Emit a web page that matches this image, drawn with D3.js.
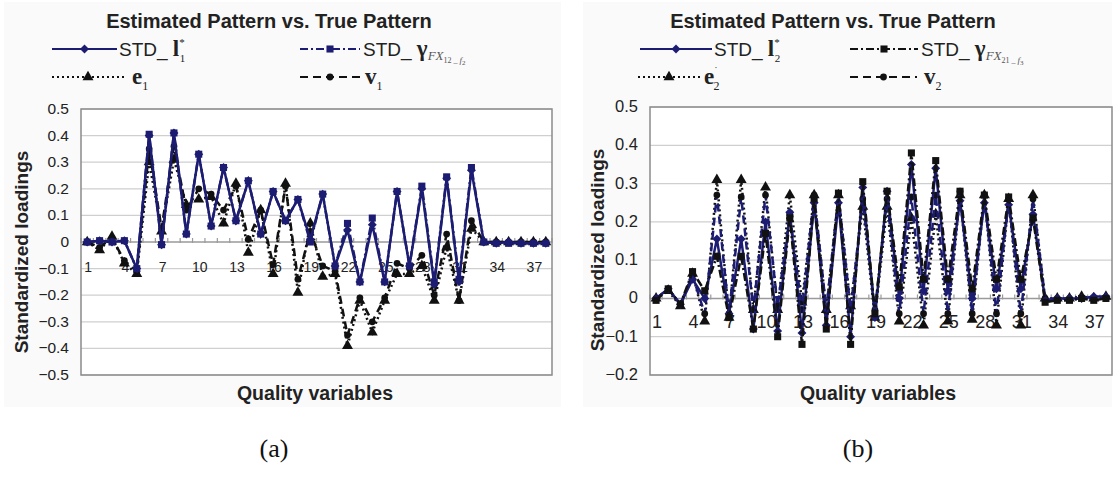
<!DOCTYPE html>
<meta charset="utf-8">
<style>
body { margin: 0; background: #fff; }
* { font-family: "Liberation Sans", Arial, sans-serif; }
.serif { font-family: "Liberation Serif", "Times New Roman", serif; }
</style>
<body>
<script src="https://d3js.org/d3.v7.min.js"></script>
<script>

// categories and tick labels
var cats = d3.range(1, 39);
var tickCats = [1, 4, 7, 10, 13, 16, 19, 22, 25, 28, 31, 34, 37];
var yTicksA = [-0.5, -0.4, -0.3, -0.2, -0.1, 0, 0.1, 0.2, 0.3, 0.4, 0.5];
var yTicksB = [-0.2, -0.1, 0, 0.1, 0.2, 0.3, 0.4, 0.5];

// panel (a) series
var l1 = [0, 0.005, 0, 0.005, -0.1, 0.40, -0.01, 0.41, 0.03, 0.33, 0.06, 0.28, 0.08, 0.23, 0.03, 0.19, 0.08, 0.16, 0.01,
          0.18, -0.09, 0.045, -0.15, 0.065, -0.15, 0.19, -0.09, 0.20, -0.16, 0.24, -0.15, 0.27, 0, -0.005, 0, -0.005, -0.005, -0.005];
var g1 = [0, 0.005, 0, 0.005, -0.1, 0.405, -0.01, 0.41, 0.03, 0.33, 0.06, 0.28, 0.08, 0.23, 0.03, 0.19, 0.08, 0.16, 0.0,
          0.18, -0.09, 0.07, -0.15, 0.09, -0.15, 0.19, -0.09, 0.21, -0.15, 0.245, -0.14, 0.28, 0, -0.005, -0.005, -0.005, -0.005, -0.005];
var e1 = [0, -0.03, 0.02, -0.08, -0.12, 0.30, 0.04, 0.31, 0.14, 0.16, 0.17, 0.07, 0.22, -0.04, 0.12, -0.12, 0.22, -0.19, 0.07,
          -0.13, -0.12, -0.39, -0.22, -0.34, -0.22, -0.12, -0.12, -0.09, -0.22, -0.02, -0.22, 0.05, 0, 0, 0, 0, 0, 0];
var v1 = [0, -0.02, 0.015, -0.07, -0.11, 0.35, 0.05, 0.36, 0.12, 0.20, 0.18, 0.12, 0.21, 0.01, 0.12, -0.085, 0.21, -0.14, 0.04,
          -0.09, -0.11, -0.35, -0.21, -0.30, -0.21, -0.08, -0.10, -0.05, -0.20, 0.03, -0.22, 0.08, 0, 0, 0, 0, 0, 0];

// panel (b) series
var l2 = [0, 0.025, -0.015, 0.05, 0.0, 0.155, -0.04, 0.155, -0.08, 0.2, -0.085, 0.225, -0.09, 0.25, -0.07, 0.25, -0.1, 0.29, -0.05,
          0.28, 0.0, 0.35, 0.02, 0.34, 0.02, 0.255, 0.0, 0.25, 0.025, 0.245, 0.025, 0.22, -0.005, 0, 0, 0, 0.005, 0.005];
var g2 = [-0.005, 0.025, -0.015, 0.07, 0.02, 0.11, -0.05, 0.11, -0.08, 0.17, -0.1, 0.21, -0.12, 0.26, -0.08, 0.275, -0.12, 0.305, -0.04,
          0.28, 0.03, 0.38, 0.05, 0.36, 0.05, 0.28, 0.025, 0.27, 0.05, 0.265, 0.05, 0.21, -0.01, -0.005, -0.005, 0, -0.005, 0];
var e2 = [0, 0.02, -0.02, 0.065, -0.06, 0.31, -0.05, 0.31, -0.03, 0.29, -0.03, 0.27, -0.01, 0.27, -0.03, 0.27, -0.02, 0.24, -0.05,
          0.24, -0.06, 0.21, -0.07, 0.22, -0.06, 0.27, -0.055, 0.27, -0.07, 0.26, -0.07, 0.27, 0, 0, 0, 0.005, 0, 0.005];
var v2 = [0, 0.025, -0.015, 0.06, -0.04, 0.27, -0.04, 0.265, -0.03, 0.27, -0.02, 0.22, -0.03, 0.27, -0.03, 0.27, -0.03, 0.26, -0.03,
          0.26, -0.04, 0.265, -0.04, 0.27, -0.04, 0.28, -0.04, 0.27, -0.04, 0.26, -0.04, 0.26, 0, 0, 0, 0, 0, 0];

var navy = "#1c1c72";

var svg = d3.select("body").append("svg")
    .attr("width", 1115)
    .attr("height", 477);

function marker(type) {
  if (type == "diamond") return d3.symbol().type(d3.symbolSquare).size(40)();
  if (type == "square") return d3.symbol().type(d3.symbolSquare).size(50)();
  if (type == "triangle") return d3.symbol().type(d3.symbolTriangle).size(52)();
  return d3.symbol().type(d3.symbolCircle).size(36)();
}

function drawPanel(p) {
  var g = svg.append("g");

  // faint chart-area background
  g.append("rect")
      .attr("x", p.bg[0]).attr("y", 2)
      .attr("width", p.bg[1] - p.bg[0]).attr("height", 405)
      .attr("fill", "#fafafa");

  var x = d3.scaleBand().domain(cats).range([p.left, p.right]);
  var y = d3.scaleLinear().domain(p.ydom).range([p.bottom, p.top]);
  var cx = function(i) { return x(cats[i]) + x.bandwidth() / 2; };

  g.append("rect")
      .attr("x", p.left).attr("y", p.top)
      .attr("width", p.right - p.left).attr("height", p.bottom - p.top)
      .attr("fill", "#fff");

  // gridlines + y labels
  p.yticks.forEach(function(t) {
    g.append("line")
        .attr("x1", p.left).attr("x2", p.right)
        .attr("y1", y(t)).attr("y2", y(t))
        .attr("stroke", t == 0 ? "#9a9a9a" : "#cfcfcf")
        .attr("stroke-width", t == 0 ? 1.5 : 1.2);
    g.append("text")
        .attr("x", p.left - 12).attr("y", y(t) + 5)
        .attr("text-anchor", "end")
        .attr("font-size", p.yfs)
        .attr("fill", "#222")
        .text(t == 0 ? "0" : d3.format(".1f")(t));
  });

  // category ticks on the zero line
  cats.concat([39]).forEach(function(c, i) {
    var xx = p.left + i * x.bandwidth();
    g.append("line")
        .attr("x1", xx).attr("x2", xx)
        .attr("y1", y(0) - 4).attr("y2", y(0) + 1)
        .attr("stroke", "#9a9a9a").attr("stroke-width", 1.2);
  });

  tickCats.forEach(function(c) {
    g.append("text")
        .attr("x", cx(c - 1) + 1).attr("y", y(0) + p.xlabDy)
        .attr("text-anchor", "middle")
        .attr("font-size", p.xfs)
        .attr("fill", "#222")
        .text(c);
  });

  g.append("rect")
      .attr("x", p.left).attr("y", p.top)
      .attr("width", p.right - p.left).attr("height", p.bottom - p.top)
      .attr("fill", "none").attr("stroke", "#8a8a8a").attr("stroke-width", 1.5);

  var line = d3.line()
      .x(function(d, i) { return cx(i); })
      .y(function(d) { return y(d); });

  p.series.forEach(function(s) {
    g.append("path")
        .datum(s.values)
        .attr("d", line)
        .attr("fill", "none")
        .attr("stroke", s.stroke)
        .attr("stroke-width", 2.5)
        .attr("stroke-dasharray", s.dash);
    g.selectAll(null)
        .data(s.values)
      .enter().append("path")
        .attr("d", marker(s.marker))
        .attr("transform", function(d, i) {
          return "translate(" + cx(i) + "," + y(d) + ")" + (s.marker == "diamond" ? "rotate(45)" : "");
        })
        .attr("fill", s.fill);
  });

  // titles
  g.append("text")
      .attr("x", p.titleX).attr("y", 28)
      .attr("text-anchor", "middle")
      .attr("font-size", 20)
      .attr("font-weight", "bold")
      .attr("fill", "#222")
      .text("Estimated Pattern vs. True Pattern");

  g.append("text")
      .attr("transform", "translate(" + p.yTitleX + "," + p.yTitleY + ")rotate(-90)")
      .attr("text-anchor", "middle")
      .attr("font-size", 19)
      .attr("font-weight", "bold")
      .attr("fill", "#222")
      .text("Standardized loadings");

  g.append("text")
      .attr("x", p.xTitleX).attr("y", 400)
      .attr("text-anchor", "middle")
      .attr("font-size", 19.5)
      .attr("font-weight", "bold")
      .attr("fill", "#222")
      .text("Quality variables");

  g.append("text")
      .attr("class", "serif")
      .attr("x", p.capX).attr("y", 457)
      .attr("text-anchor", "middle")
      .attr("font-size", 26)
      .attr("fill", "#111")
      .text(p.caption);

  // legend
  p.series.forEach(function(s, k) {
    var lg = p.legend[k];
    g.append("line")
        .attr("x1", lg.x0).attr("x2", lg.x1)
        .attr("y1", lg.y).attr("y2", lg.y)
        .attr("stroke", s.legStroke || s.stroke)
        .attr("stroke-width", 2)
        .attr("stroke-dasharray", s.dash);
    g.append("path")
        .attr("d", marker(s.marker))
        .attr("transform", "translate(" + ((lg.x0 + lg.x1) / 2) + "," + lg.y + ")" + (s.marker == "diamond" ? "rotate(45)" : ""))
        .attr("fill", s.fill);
    var t = g.append("text")
        .attr("x", lg.x1 + lg.gap).attr("y", lg.y + 7)
        .attr("font-size", 19)
        .attr("fill", "#222");
    s.label(t);
  });
}

function labelL(n) {
  return function(t) {
    t.append("tspan").text("STD_ ");
    t.append("tspan").attr("class", "serif").attr("font-weight", "bold").attr("font-size", 23).text("l");
    t.append("tspan").attr("class", "serif").attr("font-size", 11).attr("dy", -10).text("*");
    t.append("tspan").attr("class", "serif").attr("font-size", 11).attr("dx", -5).attr("dy", 16).text(n);
  };
}
function labelG(a, b) {
  return function(t) {
    t.append("tspan").text("STD_ ");
    t.append("tspan").attr("class", "serif").attr("font-weight", "bold").attr("font-size", 23).text("\u03b3");
    t.append("tspan").attr("class", "serif").attr("font-style", "italic").attr("font-size", 13).attr("fill", "#555").attr("dy", 4).text("FX");
    t.append("tspan").attr("class", "serif").attr("font-size", 8).attr("fill", "#555").attr("dy", 3).text(a + " _ ");
    t.append("tspan").attr("class", "serif").attr("font-style", "italic").attr("font-size", 9).attr("fill", "#555").text("f");
    t.append("tspan").attr("class", "serif").attr("font-size", 7).attr("fill", "#555").attr("dy", 2).text(b);
  };
}
function labelV(ch, n, prime) {
  return function(t) {
    t.append("tspan").attr("class", "serif").attr("font-weight", "bold").attr("font-size", 23).text(ch);
    if (prime) {
      t.append("tspan").attr("class", "serif").attr("font-size", 10).attr("dy", -10).text("\u02d9");
      t.append("tspan").attr("class", "serif").attr("font-size", 12).attr("dx", -4).attr("dy", 16).text(n);
    } else {
      t.append("tspan").attr("class", "serif").attr("font-size", 12).attr("dy", 6).text(n);
    }
  };
}

drawPanel({
  bg: [4, 561], left: 81, right: 552, top: 109, bottom: 375, ydom: [-0.5, 0.5], yticks: yTicksA,
  yfs: 15.5, xfs: 14, xlabDy: 30,
  titleX: 269, yTitleX: 28, yTitleY: 252, xTitleX: 315, capX: 274, caption: "(a)",
  series: [
    {values: e1, stroke: "#111", fill: "#111", dash: "2,3", marker: "triangle", label: labelV("e", "1")},
    {values: v1, stroke: "#111", fill: "#111", dash: "8,5", marker: "circle", label: labelV("v", "1")},
    {values: g1, stroke: navy, fill: navy, dash: "8,3,2,3", marker: "square", label: labelG("12", "2")},
    {values: l1, stroke: navy, fill: navy, dash: null, marker: "diamond", label: labelL("1")}
  ],
  legend: [
    {x0: 52, x1: 124, y: 77, gap: 8},
    {x0: 300, x1: 360, y: 77, gap: 5},
    {x0: 300, x1: 360, y: 49, gap: 3},
    {x0: 52, x1: 117, y: 49, gap: 2}
  ]
});

drawPanel({
  bg: [583, 1112], left: 650, right: 1112, top: 107, bottom: 375, ydom: [-0.2, 0.5], yticks: yTicksB,
  yfs: 16.5, xfs: 18, xlabDy: 30,
  titleX: 833, yTitleX: 604, yTitleY: 250, xTitleX: 878, capX: 858, caption: "(b)",
  series: [
    {values: e2, stroke: "#111", fill: "#111", dash: "2,3", marker: "triangle", label: labelV("e", "2", true)},
    {values: v2, stroke: navy, legStroke: "#111", fill: "#111", dash: "8,5", marker: "circle", label: labelV("v", "2")},
    {values: l2, stroke: navy, fill: navy, dash: null, marker: "diamond", label: labelL("2")},
    {values: g2, stroke: "#111", fill: "#111", dash: "8,3,2,3", marker: "square", label: labelG("21", "3")}
  ],
  legend: [
    {x0: 638, x1: 700, y: 77, gap: 4},
    {x0: 850, x1: 917, y: 77, gap: 7},
    {x0: 640, x1: 712, y: 49, gap: 2},
    {x0: 850, x1: 918, y: 49, gap: 3}
  ]
});

</script>
</body>
